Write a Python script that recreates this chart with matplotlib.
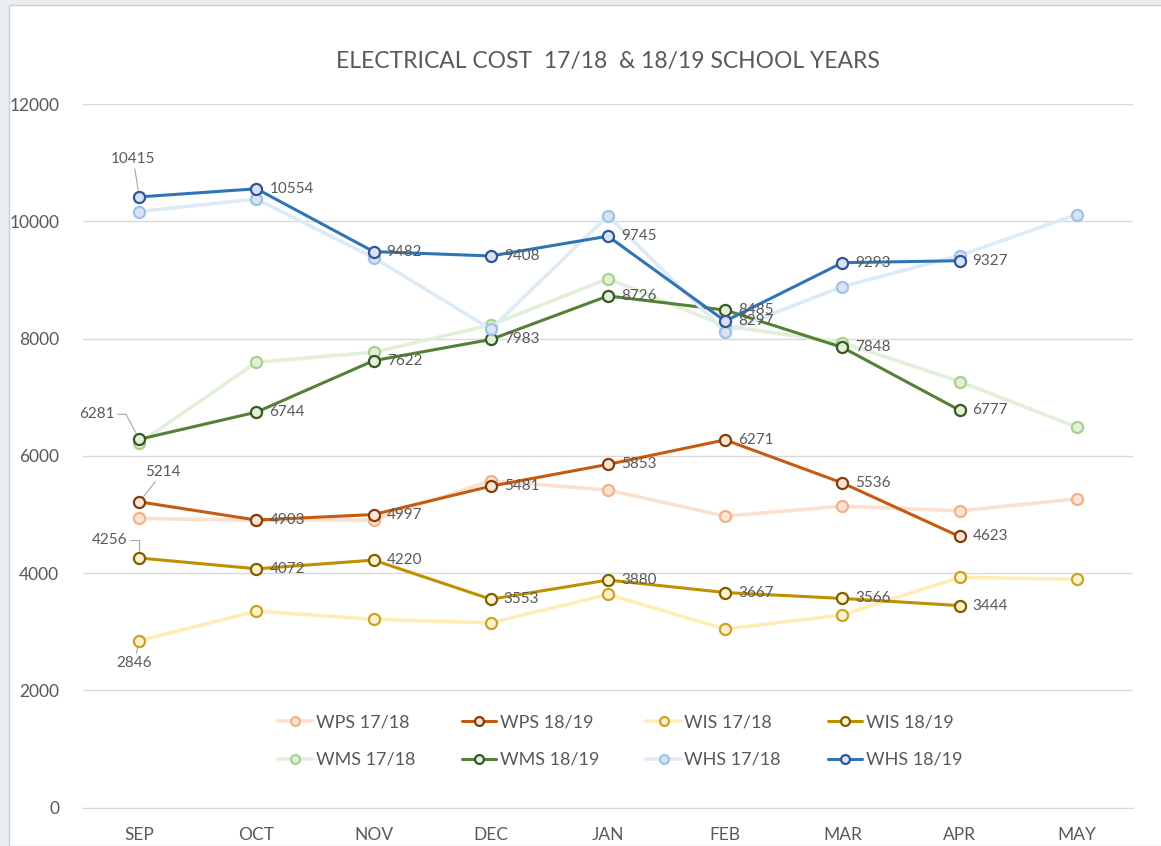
import matplotlib
matplotlib.use("Agg")
import matplotlib.pyplot as plt
from matplotlib.patches import Rectangle
import numpy as np

plt.rcParams['font.family'] = ['Lato', 'DejaVu Sans']

months = ['SEP', 'OCT', 'NOV', 'DEC', 'JAN', 'FEB', 'MAR', 'APR', 'MAY']

# 17/18 school year (no labels in original)
wps_1718 = [4930, 4900, 4905, 5575, 5415, 4970, 5140, 5060, 5265]
wis_1718 = [2846, 3350, 3210, 3150, 3635, 3045, 3285, 3925, 3895]
wms_1718 = [6215, 7595, 7765, 8230, 9020, 8215, 7930, 7265, 6490]
whs_1718 = [10165, 10380, 9380, 8160, 10095, 8110, 8885, 9415, 10115]

# 18/19 school year (labelled, through APR)
wps_1819 = [5214, 4903, 4997, 5481, 5853, 6271, 5536, 4623]
wis_1819 = [4256, 4072, 4220, 3553, 3880, 3667, 3566, 3444]
wms_1819 = [6281, 6744, 7622, 7983, 8726, 8485, 7848, 6777]
whs_1819 = [10415, 10554, 9482, 9408, 9745, 8297, 9293, 9327]

text_col = '#595959'
grid_col = '#D9D9D9'

fig = plt.figure(figsize=(11.61, 8.46), dpi=100, facecolor='#E9EEF2')
bg = Rectangle((9 / 1161, 0), 1, 841 / 846, transform=fig.transFigure,
               facecolor='white', edgecolor='#CFCFCF', lw=1, zorder=-10)
fig.add_artist(bg)
ax = fig.add_axes([83 / 1161, 1 - 807.5 / 846, (1133 - 83) / 1161, (807.5 - 104) / 846])
ax.set_facecolor('none')

x = np.arange(len(months))

# (label, values, line colour, marker face, marker edge, linewidth)
series = [
    ('WPS 17/18', wps_1718, '#FBE0D0', '#FBE5D6', '#F4B183', 2.6),
    ('WPS 18/19', wps_1819, '#C55A11', '#FBE5D6', '#843C0C', 2.2),
    ('WIS 17/18', wis_1718, '#FFEDB8', '#FFF2CC', '#C9A227', 2.6),
    ('WIS 18/19', wis_1819, '#BF9000', '#FFF2CC', '#7F6000', 2.2),
    ('WMS 17/18', wms_1718, '#E2F0D9', '#E2F0D9', '#A9D18E', 2.6),
    ('WMS 18/19', wms_1819, '#548235', '#E2F0D9', '#385723', 2.2),
    ('WHS 17/18', whs_1718, '#DDEBF7', '#DAE3F3', '#9DC3E6', 2.6),
    ('WHS 18/19', whs_1819, '#2E75B6', '#DAE3F3', '#2F5597', 2.2),
]

handles = {}
for i, (name, vals, lc, mf, me, lw) in enumerate(series):
    ln, = ax.plot(x[:len(vals)], vals, color=lc, lw=lw, marker='o', markersize=8,
                  markerfacecolor=mf, markeredgecolor=me, markeredgewidth=1.6,
                  label=name, zorder=3 + i, solid_capstyle='round')
    handles[name] = ln

# data labels for the 18/19 series, to the right of each point
special = {('WHS 18/19', 0), ('WPS 18/19', 0), ('WMS 18/19', 0), ('WIS 18/19', 0)}
for name, vals, *_ in series:
    if not name.endswith('18/19'):
        continue
    for i, v in enumerate(vals):
        if (name, i) in special:
            continue
        ax.annotate(f'{v}', (x[i], v), xytext=(13, 0), textcoords='offset pixels',
                    ha='left', va='center', fontsize=11, color=text_col, zorder=20)

# labels with leader lines at SEP
leader = dict(arrowstyle='-', color='#A6A6A6', lw=0.8, shrinkA=0, shrinkB=5)
ax.annotate(f'{whs_1819[0]}', (x[0], whs_1819[0]), xytext=(-6, 38), textcoords='offset pixels',
            ha='center', va='center', fontsize=11, color=text_col, arrowprops=leader)
ax.annotate(f'{wps_1819[0]}', (x[0], wps_1819[0]), xytext=(24, 30), textcoords='offset pixels',
            ha='center', va='center', fontsize=11, color=text_col, arrowprops=leader)
ax.annotate(f'{wms_1819[0]}', (x[0], wms_1819[0]), xytext=(-42, 25), textcoords='offset pixels',
            ha='center', va='center', fontsize=11, color=text_col,
            arrowprops=dict(leader, connectionstyle='angle,angleA=0,angleB=118,rad=0'))
ax.annotate(f'{wis_1819[0]}', (x[0], wis_1819[0]), xytext=(-30, 18), textcoords='offset pixels',
            ha='center', va='center', fontsize=11, color=text_col,
            arrowprops=dict(leader, connectionstyle='angle,angleA=0,angleB=90,rad=0'))
ax.annotate(f'{wis_1718[0]}', (x[0], wis_1718[0]), xytext=(-5, -22), textcoords='offset pixels',
            ha='center', va='center', fontsize=11, color=text_col, arrowprops=leader)

ax.set_xlim(-0.48, 8.48)
ax.set_ylim(0, 12000)
ax.set_yticks(np.arange(0, 12001, 2000))
ax.set_xticks(x)
ax.set_xticklabels(months)
ax.tick_params(axis='both', length=0, colors=text_col, labelsize=12.5)
ax.tick_params(axis='y', pad=17)
ax.tick_params(axis='x', pad=14)
ax.grid(axis='y', color=grid_col, lw=1, zorder=0)
ax.set_axisbelow(True)
for s in ['top', 'right', 'left']:
    ax.spines[s].set_visible(False)
ax.spines['bottom'].set_color(grid_col)

ax.set_title('ELECTRICAL COST  17/18  & 18/19 SCHOOL YEARS', fontsize=16.5, color=text_col, pad=26)

order = ['WPS 17/18', 'WMS 17/18', 'WPS 18/19', 'WMS 18/19',
         'WIS 17/18', 'WHS 17/18', 'WIS 18/19', 'WHS 18/19']
leg = ax.legend([handles[n] for n in order], order, ncol=4, loc='center',
                bbox_to_anchor=(620 / 1161, 1 - 741 / 846), bbox_transform=fig.transFigure,
                frameon=False, fontsize=13, handlelength=1.9, handletextpad=0.2,
                columnspacing=2.6, labelspacing=1.2, markerscale=0.8)
for t in leg.get_texts():
    t.set_color(text_col)

fig.savefig('out.png', dpi=100, facecolor=fig.get_facecolor())
